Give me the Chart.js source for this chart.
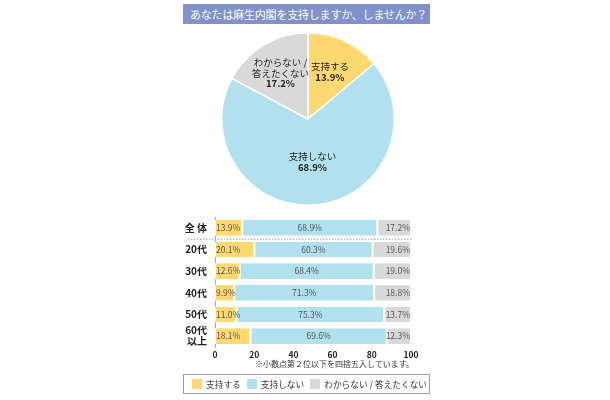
<!DOCTYPE html>
<html lang="ja">
<head>
<meta charset="utf-8">
<script src="https://cdn.jsdelivr.net/npm/chart.js@4"></script>
<style>
  body { margin: 0; width: 610px; height: 400px; background: #fff; position: relative;
         font-family: "Noto Sans CJK JP", "Noto Sans", sans-serif; overflow: hidden; }
  #title { position: absolute; left: 183px; top: 4px; width: 247px; height: 20px;
           background: #7f92cb; color: #fff; font-size: 11px; line-height: 20px;
           padding-left: 7px; box-sizing: border-box; white-space: nowrap; letter-spacing: -0.2px; }
  #pie-wrap { position: absolute; left: 221px; top: 32px; width: 174px; height: 174px; }
  #bar-wrap { position: absolute; left: 183px; top: 215px; width: 240px; height: 146px; }
  #note { position: absolute; left: 230px; top: 358px; width: 184px; text-align: right;
          font-size: 8px; color: #333; white-space: nowrap; }
  #legend { position: absolute; left: 183px; top: 374px; width: 247px; height: 20px;
            border: 1px solid #999; box-sizing: border-box; font-size: 8.7px; color: #333;
            display: flex; align-items: center; padding-left: 8px; white-space: nowrap; }
  #legend span.sw { display: inline-block; width: 10px; height: 10px; margin-right: 4px; }
  #legend span.it { display: flex; align-items: center; margin-right: 6px; }
</style>
</head>
<body>
<div id="title">あなたは麻生内閣を支持しますか、しませんか？</div>
<div id="pie-wrap"><canvas id="chart-pie"></canvas></div>
<div id="bar-wrap"><canvas id="chart-bar"></canvas></div>
<div id="note">※小数点第２位以下を四捨五入しています。</div>
<div id="legend"></div>

<script>
/* ---------- Data ---------- */
const ANSWERS = ['支持する', '支持しない', 'わからない / 答えたくない'];
const PIE_LABELS = [['支持する'], ['支持しない'], ['わからない /', '答えたくない']];
const PIE_VALUES = [13.9, 68.9, 17.2];

const GROUPS = ['全 体', '20代', '30代', '40代', '50代', ['60代', '以上']];
const SUPPORT = [13.9, 20.1, 12.6, 9.9, 11.0, 18.1];
const NOT_SUPPORT = [68.9, 60.3, 68.4, 71.3, 75.3, 69.6];
const UNKNOWN = [17.2, 19.6, 19.0, 18.8, 13.7, 12.3];
const X_TICKS = [0, 20, 40, 60, 80, 100];

const COLORS = ['#ffd96f', '#b1e0ef', '#d9d9d9'];
const FONT = '"Noto Sans CJK JP", "Noto Sans", sans-serif';

/* ---------- Pie ---------- */
// Labels sit inside each slice, at a fraction of the radius.
const pieLabels = {
  id: 'pieLabels',
  afterDatasetsDraw(chart) {
    const ctx = chart.ctx;
    const meta = chart.getDatasetMeta(0);
    const fracs = [0.6, 0.5, 0.62];
    meta.data.forEach((arc, i) => {
      const { x, y, startAngle, endAngle, outerRadius } = arc.getProps(['x', 'y', 'startAngle', 'endAngle', 'outerRadius']);
      const mid = (startAngle + endAngle) / 2;
      const cx = x + Math.cos(mid) * outerRadius * fracs[i];
      const cy = y + Math.sin(mid) * outerRadius * fracs[i];
      const lines = PIE_LABELS[i].concat([PIE_VALUES[i].toFixed(1) + '%']);
      const lh = 10.5;
      const top = cy - (lines.length - 1) * lh / 2;
      ctx.save();
      ctx.fillStyle = '#222';
      ctx.textAlign = 'center';
      ctx.textBaseline = 'middle';
      lines.forEach((t, k) => {
        const last = k === lines.length - 1;
        ctx.font = (last ? 'bold ' : '') + '9.5px ' + FONT;
        ctx.fillText(t, cx, top + k * lh);
      });
      ctx.restore();
    });
  },
};

new Chart(document.getElementById('chart-pie'), {
  type: 'pie',
  data: {
    labels: ANSWERS,
    datasets: [{ data: PIE_VALUES, backgroundColor: COLORS, borderColor: '#fff', borderWidth: 1.5 }],
  },
  options: {
    responsive: true,
    maintainAspectRatio: false,
    animation: false,
    layout: { padding: 0 },
    plugins: { legend: { display: false }, tooltip: { enabled: false } },
  },
  plugins: [pieLabels],
});

/* ---------- Stacked bars ---------- */
// Value text in every segment + dotted separator under the total row.
const barLabels = {
  id: 'barLabels',
  afterDatasetsDraw(chart) {
    const ctx = chart.ctx;
    const area = chart.chartArea;
    ctx.save();
    ctx.font = '8.5px ' + FONT;
    ctx.fillStyle = '#555';
    ctx.textBaseline = 'middle';
    chart.data.datasets.forEach((ds, di) => {
      chart.getDatasetMeta(di).data.forEach((bar, i) => {
        const { x, y, base } = bar.getProps(['x', 'y', 'base']);
        const txt = ds.data[i].toFixed(1) + '%';
        if (di === 0) { ctx.textAlign = 'left'; ctx.fillText(txt, base + 1, y); }
        else if (di === 1) { ctx.textAlign = 'center'; ctx.fillText(txt, (base + x) / 2, y); }
        else { ctx.textAlign = 'right'; ctx.fillText(txt, x - 1, y); }
      });
    });
    // dotted line between 全体 and 20代
    const ys = chart.scales.y;
    const sep = (ys.getPixelForValue(0) + ys.getPixelForValue(1)) / 2;
    ctx.strokeStyle = '#999';
    ctx.lineWidth = 1;
    ctx.setLineDash([1.5, 1.5]);
    ctx.beginPath();
    ctx.moveTo(5, sep + 0.5);
    ctx.lineTo(area.right + 1, sep + 0.5);
    ctx.stroke();
    ctx.restore();
  },
};

const barSet = (label, data, color) => ({
  label, data, backgroundColor: color, borderColor: '#fff',
  borderWidth: { left: 1, right: 1, top: 0, bottom: 0 }, borderSkipped: false,
  barPercentage: 0.72, categoryPercentage: 1,
});

new Chart(document.getElementById('chart-bar'), {
  type: 'bar',
  data: {
    labels: GROUPS,
    datasets: [
      barSet(ANSWERS[0], SUPPORT, COLORS[0]),
      barSet(ANSWERS[1], NOT_SUPPORT, COLORS[1]),
      barSet(ANSWERS[2], UNKNOWN, COLORS[2]),
    ],
  },
  options: {
    indexAxis: 'y',
    responsive: true,
    maintainAspectRatio: false,
    animation: false,
    layout: { padding: { top: 2, right: 12, left: 0, bottom: 0 } },
    plugins: { legend: { display: false }, tooltip: { enabled: false } },
    scales: {
      x: {
        stacked: true, min: 0, max: 100,
        afterBuildTicks: (s) => { s.ticks = X_TICKS.map((v) => ({ value: v })); },
        afterFit: (s) => { s.height = 14; s.paddingLeft = 0; s.paddingRight = 0; },
        grid: { display: false, drawTicks: false },
        border: { display: false },
        ticks: { padding: 3, color: '#222', font: { family: FONT, size: 8.5, weight: 'bold' } },
      },
      y: {
        stacked: true,
        // fixed label column; drop the label-height padding so rows fill the area
        afterFit: (s) => { s.width = 32; s.paddingTop = 0; s.paddingBottom = 0; },
        grid: { display: false, drawTicks: false },
        border: { display: true, color: '#aaa' },
        ticks: { autoSkip: false, padding: 8, color: '#222', font: { family: FONT, size: 10, weight: 'bold', lineHeight: 1.1 } },
      },
    },
  },
  plugins: [barLabels],
});

/* ---------- Legend ---------- */
const legend = document.getElementById('legend');
ANSWERS.forEach((a, i) => {
  const it = document.createElement('span');
  it.className = 'it';
  it.innerHTML = `<span class="sw" style="background:${COLORS[i]}"></span>${a}`;
  legend.appendChild(it);
});
</script>
</body>
</html>
